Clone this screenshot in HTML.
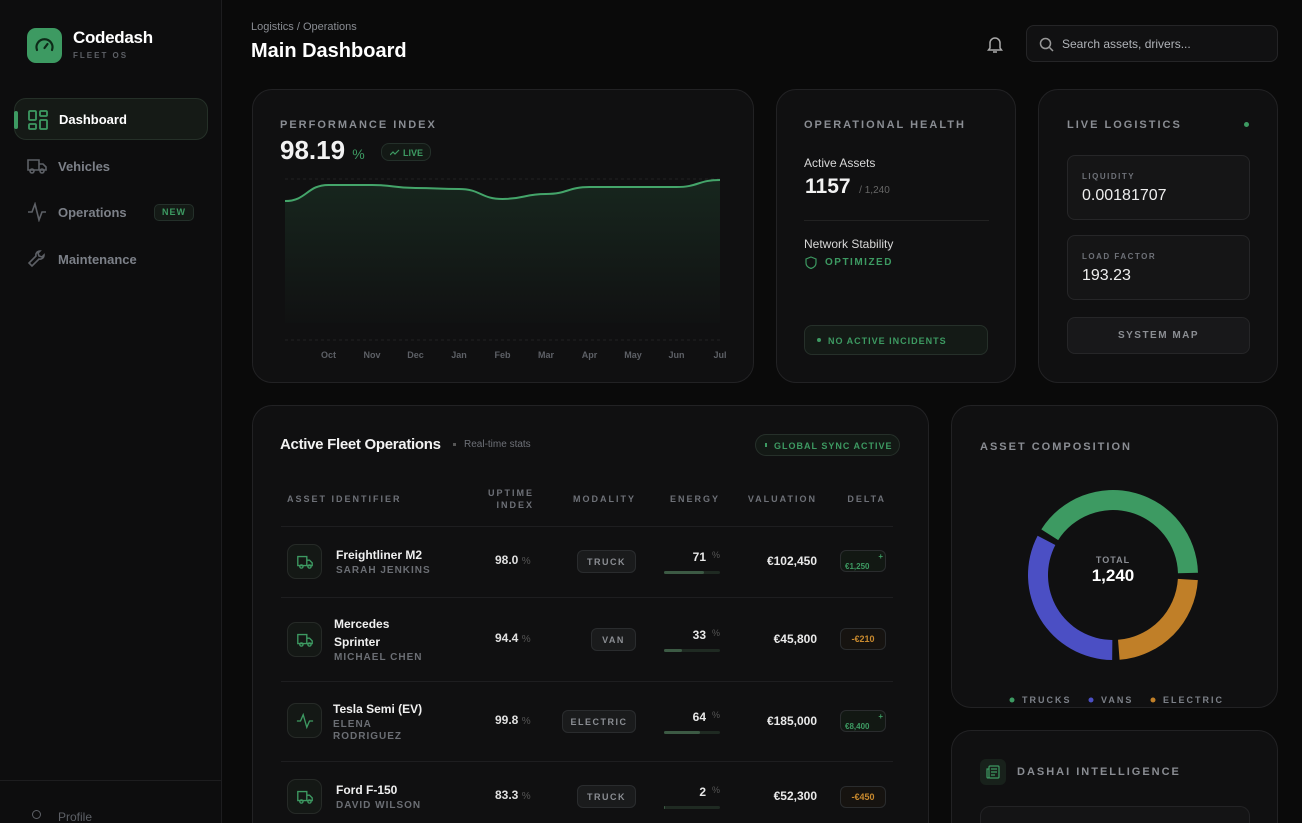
<!DOCTYPE html>
<html><head><meta charset="utf-8"><style>
*{box-sizing:border-box;margin:0;padding:0}
html{width:1302px;height:823px;overflow:hidden}
body{width:1302px;height:823px;overflow:hidden;background:#0a0a0a;font-family:"Liberation Sans",sans-serif;color:#e8e8e8;position:relative}
#root{position:absolute;left:0;top:0;width:1302px;height:823px;overflow:hidden}
.abs{position:absolute}
.card{position:absolute;background:#101011;border:1px solid #222224;border-radius:20px;overflow:hidden}
.cut{border-bottom:none;border-bottom-left-radius:0;border-bottom-right-radius:0}
.lbl{font-size:11px;letter-spacing:2px;color:#8a8d93;font-weight:bold}
.nav{position:absolute;left:14px;width:194px;height:42px;border-radius:12px;display:flex;align-items:center;padding-left:44px;font-size:13px;font-weight:bold;color:#7c8088}
.nav svg{position:absolute;left:13px;top:11px}
.th{position:absolute;top:487px;font-size:9px;letter-spacing:2px;color:#6e7178;font-weight:bold;text-align:right;line-height:12px}
.row-sep{position:absolute;left:281px;width:612px;height:1px;background:#1e1e20}
.ico{position:absolute;left:287px;width:35px;height:35px;border:1px solid #262a27;border-radius:9px;background:#141815}
.nm{position:absolute;font-size:12px;font-weight:bold;color:#f0f0f0;line-height:18px}
.dr{position:absolute;font-size:10px;letter-spacing:1px;color:#6b6e74;font-weight:bold;line-height:12px}
.up{position:absolute;left:495px;font-size:12px;font-weight:bold;color:#e0e0e0}
.up span{color:#555;font-weight:normal;font-size:10px}
.pill{position:absolute;height:23px;border:1px solid #2a2c2e;background:#1a1b1c;border-radius:6px;font-size:9px;letter-spacing:1.5px;color:#8b8e93;font-weight:bold;display:flex;align-items:center;justify-content:center}
.en{position:absolute;left:664px;width:56px;font-size:12px;font-weight:bold;color:#e8e8e8;text-align:right;padding-right:14px}
.en span{position:absolute;right:0;color:#555;font-weight:normal;font-size:9px}
.bar{position:absolute;left:664px;width:56px;height:3px;background:#1f2a22;border-radius:2px}
.bar i{display:block;height:3px;background:#3c5a44;border-radius:2px}
.val{position:absolute;right:485px;font-size:12px;font-weight:bold;color:#eaeaea}
.dl{position:absolute;left:840px;width:46px;height:22px;border:1px solid #2a2c2e;border-radius:6px;font-size:9px;font-weight:bold;display:flex;align-items:center;justify-content:center}
</style></head><body><div id="root">
<!-- sidebar -->
<div class="abs" style="left:0;top:0;width:222px;height:823px;overflow:hidden;background:#0d0d0e;border-right:1px solid #1d1d1f">
 <div class="abs" style="left:27px;top:28px;width:35px;height:35px;border-radius:9px;background:#3d9a62">
  <svg width="35" height="35" viewBox="0 0 35 35"><path d="M10 22a8 8 0 1 1 15 0" fill="none" stroke="#0d2a18" stroke-width="2.2" stroke-linecap="round"/><path d="M17.5 20l3-4" stroke="#0d2a18" stroke-width="2.2" stroke-linecap="round"/></svg>
 </div>
 <div class="abs" style="left:73px;top:28px;font-size:17px;font-weight:bold;color:#fff;letter-spacing:-0.3px">Codedash</div>
 <div class="abs" style="left:73px;top:51px;font-size:8px;letter-spacing:2px;color:#5d6066;font-weight:bold">FLEET OS</div>
 <div class="nav" style="top:98px;background:#151a16;border:1px solid #253028;color:#fff">
  <div class="abs" style="left:-1px;top:12px;width:4px;height:18px;background:#3d9a62;border-radius:2px"></div>
  <svg width="20" height="20" viewBox="0 0 20 20" fill="none" stroke="#3d9a62" stroke-width="1.8"><rect x="1" y="1" width="7" height="9" rx="1"/><rect x="12" y="1" width="7" height="5" rx="1"/><rect x="1" y="14" width="7" height="5" rx="1"/><rect x="12" y="10" width="7" height="9" rx="1"/></svg>Dashboard</div>
 <div class="nav" style="top:145px"><svg width="20" height="20" viewBox="0 0 20 20" fill="none" stroke="#5d6066" stroke-width="1.6"><path d="M1 4h11v10H1zM12 8h4l3 3v3h-7"/><circle cx="5" cy="15" r="2"/><circle cx="15" cy="15" r="2"/></svg>Vehicles</div>
 <div class="nav" style="top:191px"><svg width="20" height="20" viewBox="0 0 20 20" fill="none" stroke="#5d6066" stroke-width="1.6"><path d="M1 10h4l3-8 4 16 3-8h4"/></svg>Operations
  <div class="abs" style="left:140px;top:13px;width:40px;height:17px;border:1px solid #24302a;background:#141a16;border-radius:5px;font-size:9px;letter-spacing:1px;color:#3d9a62;text-align:center;line-height:15px">NEW</div></div>
 <div class="nav" style="top:238px"><svg width="20" height="20" viewBox="0 0 20 20" fill="none" stroke="#5d6066" stroke-width="1.6"><path d="M13 2a4 4 0 0 0-4 5L2 14l3 3 7-7a4 4 0 0 0 5-4l-2 2-3-1-1-3z"/></svg>Maintenance</div>
 <div class="abs" style="left:0;top:780px;width:222px;height:1px;background:#1d1d1f"></div>
 <div class="abs" style="left:58px;top:811px;font-size:12px;line-height:12px;color:#5d6066">Profile</div>
 <div class="abs" style="left:32px;top:810px;width:9px;height:9px;border:1.5px solid #5d6066;border-radius:50%"></div>
</div>
<!-- header -->
<div class="abs" style="left:251px;top:21px;font-size:11px;color:#8a8d93">Logistics / Operations</div>
<div class="abs" style="left:251px;top:40px;font-size:20px;font-weight:bold;color:#fff">Main Dashboard</div>
<svg class="abs" style="left:985px;top:34px" width="20" height="20" viewBox="0 0 20 20" fill="none" stroke="#aaa" stroke-width="1.5"><path d="M5 14V9a5 5 0 0 1 10 0v5l1.5 2h-13zM8 18h4"/></svg>
<div class="abs" style="left:1026px;top:25px;width:252px;height:37px;border:1px solid #252527;background:#111112;border-radius:8px;font-size:12px;color:#b0b3b8;padding:11px 0 0 35px">Search assets, drivers...
 <svg class="abs" style="left:12px;top:11px" width="15" height="15" viewBox="0 0 15 15" fill="none" stroke="#999" stroke-width="1.5"><circle cx="6.5" cy="6.5" r="5"/><path d="M10.5 10.5l3.5 3.5"/></svg></div>

<!-- performance card -->
<div class="card" style="left:252px;top:89px;width:502px;height:294px">
 <div class="abs lbl" style="left:27px;top:29px">PERFORMANCE INDEX</div>
 <div class="abs" style="left:27px;top:45px;font-size:26px;font-weight:bold;color:#f2f2f2">98.19 <span style="font-size:14px;font-weight:normal;color:#3d9a62">%</span></div>
 <div class="abs" style="left:128px;top:53px;width:50px;height:18px;border:1px solid #24302a;background:#131915;border-radius:8px;font-size:9px;color:#3d9a62;font-weight:bold;padding:4px 0 0 21px">LIVE
  <svg class="abs" style="left:8px;top:5px" width="10" height="7" viewBox="0 0 10 7" fill="none" stroke="#3d9a62" stroke-width="1.2"><path d="M0 6l3-3 2 2 4-4"/></svg></div>
</div>
<svg class="abs" id="perf" style="left:252px;top:89px" width="502" height="294"></svg>

<!-- operational health -->
<div class="card" style="left:776px;top:89px;width:240px;height:294px">
 <div class="abs lbl" style="left:27px;top:29px">OPERATIONAL HEALTH</div>
 <div class="abs" style="left:27px;top:66px;font-size:12px;color:#d8d8d8">Active Assets</div>
 <div class="abs" style="left:28px;top:85px;font-size:21px;font-weight:bold;color:#f2f2f2">1157 <span style="font-size:10px;font-weight:normal;color:#666">&nbsp;/ 1,240</span></div>
 <div class="abs" style="left:27px;top:130px;width:185px;height:1px;background:#222"></div>
 <div class="abs" style="left:27px;top:147px;font-size:12px;color:#d8d8d8">Network Stability</div>
 <div class="abs" style="left:48px;top:167px;font-size:10px;letter-spacing:1.5px;color:#3d9a62;font-weight:bold">OPTIMIZED</div>
 <svg class="abs" style="left:28px;top:166px" width="12" height="13" viewBox="0 0 12 13" fill="none" stroke="#3d9a62" stroke-width="1.2"><path d="M6 1l5 2v4c0 3-2 4.5-5 5.5C3 11.5 1 10 1 7V3z"/></svg>
 <div class="abs" style="left:27px;top:235px;width:184px;height:30px;border:1px solid #26302a;background:#141a16;border-radius:8px;font-size:9px;letter-spacing:1px;color:#3d9a62;font-weight:bold;padding:10px 0 0 23px">NO ACTIVE INCIDENTS<div class="abs" style="left:12px;top:12px;width:4px;height:4px;border-radius:50%;background:#3d9a62"></div></div>
</div>

<!-- live logistics -->
<div class="card" style="left:1038px;top:89px;width:240px;height:294px">
 <div class="abs lbl" style="left:28px;top:29px">LIVE LOGISTICS</div>
 <div class="abs" style="left:205px;top:32px;width:5px;height:5px;border-radius:50%;background:#3d9a62"></div>
 <div class="abs" style="left:28px;top:65px;width:183px;height:65px;border:1px solid #262628;background:#151516;border-radius:8px">
  <div class="abs" style="left:14px;top:16px;font-size:8px;letter-spacing:1.5px;color:#6e7178;font-weight:bold">LIQUIDITY</div>
  <div class="abs" style="left:14px;top:31px;font-size:16px;color:#eee">0.00181707</div></div>
 <div class="abs" style="left:28px;top:145px;width:183px;height:65px;border:1px solid #262628;background:#151516;border-radius:8px">
  <div class="abs" style="left:14px;top:16px;font-size:8px;letter-spacing:1.5px;color:#6e7178;font-weight:bold">LOAD FACTOR</div>
  <div class="abs" style="left:14px;top:31px;font-size:16px;color:#eee">193.23</div></div>
 <div class="abs" style="left:28px;top:227px;width:183px;height:37px;border:1px solid #262628;background:#18181a;border-radius:8px;font-size:10px;letter-spacing:1.5px;color:#8b8e93;font-weight:bold;text-align:center;line-height:35px">SYSTEM MAP</div>
</div>

<!-- fleet table -->
<div class="card cut" style="left:252px;top:405px;width:677px;height:418px"></div>
<div class="abs" style="left:280px;top:436px;font-size:15px;font-weight:bold;color:#f2f2f2;letter-spacing:-0.3px">Active Fleet Operations</div>
<div class="abs" style="left:453px;top:443px;width:3px;height:3px;background:#555"></div>
<div class="abs" style="left:464px;top:439px;font-size:10px;color:#6e7178">Real-time stats</div>
<div class="abs" style="left:755px;top:434px;width:145px;height:22px;border:1px solid #26302a;background:#131915;border-radius:11px;font-size:9px;letter-spacing:1px;color:#3d9a62;font-weight:bold;padding:6px 0 0 18px">GLOBAL SYNC ACTIVE<div class="abs" style="left:9px;top:8px;width:2px;height:4px;background:#3d9a62"></div></div>
<div class="th" style="left:287px;top:493px;text-align:left">ASSET IDENTIFIER</div>
<div class="th" style="left:480px;width:54px">UPTIME<br>INDEX</div>
<div class="th" style="left:560px;width:76px;top:493px">MODALITY</div>
<div class="th" style="left:660px;width:60px;top:493px">ENERGY</div>
<div class="th" style="left:740px;width:77px;top:493px">VALUATION</div>
<div class="th" style="left:840px;width:46px;top:493px">DELTA</div>
<div class="row-sep" style="top:526px"></div>
<div class="row-sep" style="top:597px"></div>
<div class="row-sep" style="top:681px"></div>
<div class="row-sep" style="top:761px"></div>

<!-- row 1 -->
<div class="ico" style="top:544px"><svg class="abs" style="left:8px;top:8px" width="18" height="18" viewBox="0 0 20 20" fill="none" stroke="#3d9a62" stroke-width="1.5"><path d="M2 4h10v10H2zM12 8h3l3 3v3h-6"/><circle cx="6" cy="15" r="1.8"/><circle cx="15" cy="15" r="1.8"/></svg></div>
<div class="nm" style="left:336px;top:546px">Freightliner M2</div>
<div class="dr" style="left:336px;top:565px">SARAH JENKINS</div>
<div class="up" style="top:553px">98.0 <span>%</span></div>
<div class="pill" style="left:577px;top:550px;width:59px">TRUCK</div>
<div class="en" style="top:550px">71<span>%</span></div><div class="bar" style="top:571px"><i style="width:71%"></i></div>
<div class="val" style="top:554px">€102,450</div>
<div class="dl" style="top:550px;color:#3d9a62;background:#121813;font-size:8px;justify-content:flex-start;padding-left:4px;padding-top:10px">€1,250<span class="abs" style="right:2px;top:1px">+</span></div>
<!-- row 2 -->
<div class="ico" style="top:622px"><svg class="abs" style="left:8px;top:8px" width="18" height="18" viewBox="0 0 20 20" fill="none" stroke="#3d9a62" stroke-width="1.5"><path d="M2 4h10v10H2zM12 8h3l3 3v3h-6"/><circle cx="6" cy="15" r="1.8"/><circle cx="15" cy="15" r="1.8"/></svg></div>
<div class="nm" style="left:334px;top:615px">Mercedes<br>Sprinter</div>
<div class="dr" style="left:334px;top:652px">MICHAEL CHEN</div>
<div class="up" style="top:631px">94.4 <span>%</span></div>
<div class="pill" style="left:591px;top:628px;width:45px">VAN</div>
<div class="en" style="top:628px">33<span>%</span></div><div class="bar" style="top:649px"><i style="width:33%"></i></div>
<div class="val" style="top:632px">€45,800</div>
<div class="dl" style="top:628px;color:#c98a2e;background:#161310">-€210</div>
<!-- row 3 -->
<div class="ico" style="top:703px"><svg class="abs" style="left:8px;top:8px" width="18" height="18" viewBox="0 0 20 20" fill="none" stroke="#3d9a62" stroke-width="1.5"><path d="M1 10h4l3-7 4 14 3-7h4"/></svg></div>
<div class="nm" style="left:333px;top:700px">Tesla Semi (EV)</div>
<div class="dr" style="left:333px;top:719px">ELENA<br>RODRIGUEZ</div>
<div class="up" style="top:713px">99.8 <span>%</span></div>
<div class="pill" style="left:562px;top:710px;width:74px">ELECTRIC</div>
<div class="en" style="top:710px">64<span>%</span></div><div class="bar" style="top:731px"><i style="width:64%"></i></div>
<div class="val" style="top:714px">€185,000</div>
<div class="dl" style="top:710px;color:#3d9a62;background:#121813;font-size:8px;justify-content:flex-start;padding-left:4px;padding-top:10px">€8,400<span class="abs" style="right:2px;top:1px">+</span></div>
<!-- row 4 -->
<div class="ico" style="top:779px"><svg class="abs" style="left:8px;top:8px" width="18" height="18" viewBox="0 0 20 20" fill="none" stroke="#3d9a62" stroke-width="1.5"><path d="M2 4h10v10H2zM12 8h3l3 3v3h-6"/><circle cx="6" cy="15" r="1.8"/><circle cx="15" cy="15" r="1.8"/></svg></div>
<div class="nm" style="left:336px;top:781px">Ford F-150</div>
<div class="dr" style="left:336px;top:800px">DAVID WILSON</div>
<div class="up" style="top:788px">83.3 <span>%</span></div>
<div class="pill" style="left:577px;top:785px;width:59px">TRUCK</div>
<div class="en" style="top:785px">2<span>%</span></div><div class="bar" style="top:806px"><i style="width:2%"></i></div>
<div class="val" style="top:789px">€52,300</div>
<div class="dl" style="top:786px;color:#c98a2e;background:#161310">-€450</div>

<!-- asset composition -->
<div class="card" style="left:951px;top:405px;width:327px;height:303px">
 <div class="abs lbl" style="left:28px;top:35px">ASSET COMPOSITION</div>
</div>
<svg class="abs" id="donut" style="left:951px;top:405px" width="327" height="303"></svg>

<!-- dashai -->
<div class="card cut" style="left:951px;top:730px;width:327px;height:93px">
 <div class="abs" style="left:28px;top:28px;width:26px;height:26px;border-radius:6px;background:#18211b"><svg class="abs" style="left:6px;top:6px" width="14" height="14" viewBox="0 0 14 14" fill="none" stroke="#3d9a62" stroke-width="1.2"><rect x="3" y="1" width="10" height="12" rx="1"/><path d="M3 4H1v8a1 1 0 0 0 2 0M5 4h6M5 7h6M5 10h4"/></svg></div>
 <div class="abs lbl" style="left:65px;top:35px">DASHAI INTELLIGENCE</div>
 <div class="abs" style="left:28px;top:75px;width:270px;height:18px;border:1px solid #232325;border-bottom:none;background:#141415;border-radius:10px 10px 0 0"></div>
</div>
</div>
<script>
// performance chart data
const months = ["Sep","Oct","Nov","Dec","Jan","Feb","Mar","Apr","May","Jun","Jul"];
const perfValues = [86.3,96.3,96.3,94.4,93.8,87.6,90.7,95.0,95.0,95.0,99.4];
const axisLabels = ["Oct","Nov","Dec","Jan","Feb","Mar","Apr","May","Jun","Jul"];
// donut data
const segNames = ["TRUCKS","ELECTRIC","VANS"];
const segValues = [520,300,420];
const segColors = ["#3d9a62","#c07f28","#4b4fc4"];

const NS="http://www.w3.org/2000/svg";
function mk(parent,tag,attrs){const e=document.createElementNS(NS,tag);for(const k in attrs)e.setAttribute(k,attrs[k]);parent.appendChild(e);return e;}

(function(){
 const svg=document.getElementById('perf');
 const x0=33,x1=468,yTop=90,yBot=251;
 const xs=i=>x0+(x1-x0)*i/(months.length-1);
 const ys=v=>yBot-(yBot-yTop)*v/100;
 const defs=mk(svg,'defs',{});
 const g=mk(defs,'linearGradient',{id:'pg',x1:0,y1:0,x2:0,y2:1});
 mk(g,'stop',{offset:'0','stop-color':'#3d9a62','stop-opacity':'0.16'});
 mk(g,'stop',{offset:'1','stop-color':'#3d9a62','stop-opacity':'0.01'});
 [yTop,yBot].forEach(y=>{const l=mk(svg,'line',{x1:x0,x2:x1,y1:y,y2:y,stroke:'#222',"stroke-dasharray":'3 3'});
  
  });
 const pts=perfValues.map((v,i)=>[xs(i),ys(v)]);
 let d=`M${pts[0][0]},${pts[0][1]}`;
 for(let i=1;i<pts.length;i++){const p=pts[i-1],c=pts[i],mx=(p[0]+c[0])/2;d+=` C${mx},${p[1]} ${mx},${c[1]} ${c[0]},${c[1]}`;}
 const area=mk(svg,'path',{d:d+` L${x1},${yBot-17} L${x0},${yBot-17}Z`,fill:'url(#pg)'});
 
 
 const line=mk(svg,'path',{d:d,fill:'none',stroke:'#44a56a','stroke-width':2});
 
 
 axisLabels.forEach(m=>{const i=months.indexOf(m);const t=mk(svg,'text',{x:xs(i),y:269,'text-anchor':'middle','font-size':9,'font-weight':'bold',fill:'#5d6066','font-family':'Liberation Sans, sans-serif'});t.textContent=m;
  
  });
})();

(function(){
 const svg=document.getElementById('donut');
 const cx=162,cy=170,ro=85,ri=65,gap=2.5,start=300;
 const total=segValues.reduce((a,b)=>a+b,0);
 const pt=(a,r)=>{const t=(a-90)*Math.PI/180;return [cx+r*Math.cos(t),cy+r*Math.sin(t)];};
 let a=start;
 segValues.forEach((v,i)=>{
  const span=v/total*360,s=a+gap,e=a+span-gap;a+=span;
  const large=(e-s)>180?1:0;
  const p1=pt(s,ro),p2=pt(e,ro),p3=pt(e,ri),p4=pt(s,ri);
  const p=mk(svg,'path',{d:`M${p1} A${ro},${ro} 0 ${large} 1 ${p2} L${p3} A${ri},${ri} 0 ${large} 0 ${p4}Z`,fill:segColors[i]});
  
  
 });
 const t1=mk(svg,'text',{x:cx,y:158,'text-anchor':'middle','font-size':9,'font-weight':'bold','letter-spacing':1,fill:'#8a8d93','font-family':'Liberation Sans, sans-serif'});t1.textContent='TOTAL';
 
 
 const t2=mk(svg,'text',{x:cx,y:176,'text-anchor':'middle','font-size':17,'font-weight':'bold',fill:'#fff','font-family':'Liberation Sans, sans-serif'});t2.textContent=total.toLocaleString('en-US');
 
 
 const legend=[["TRUCKS",0,61],["VANS",2,140],["ELECTRIC",1,202]];
 legend.forEach(([n,ci,x])=>{
  const c=mk(svg,'circle',{cx:x,cy:295,r:2.5,fill:segColors[ci]});
  
  
  const t=mk(svg,'text',{x:x+10,y:298,'font-size':9,'font-weight':'bold','letter-spacing':2,fill:'#7c8088','font-family':'Liberation Sans, sans-serif'});t.textContent=n;
  
  
 });
})();
</script>
</body></html>
